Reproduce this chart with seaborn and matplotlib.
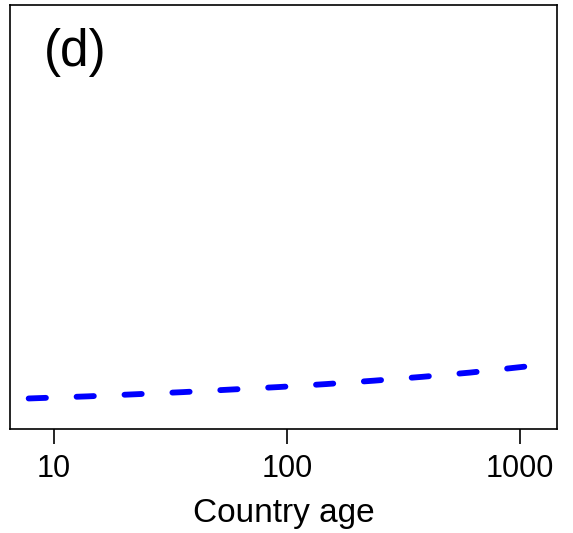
import numpy as np
import pandas as pd
import matplotlib
matplotlib.use("Agg")
import matplotlib.pyplot as plt
import seaborn as sns

country_age = [7.8, 14.0, 22.5, 35.9, 57.4, 92.7, 148, 237, 381, 611, 1090]
effect = [0.072, 0.077, 0.082, 0.087, 0.093, 0.099, 0.106, 0.114, 0.123, 0.133, 0.148]
x_ticks = [10, 100, 1000]
x_tick_labels = ["10", "100", "1000"]

sns.set_style("white")
plt.rcParams['font.family'] = ['Liberation Sans', 'DejaVu Sans']
plt.rcParams['text.color'] = 'black'
plt.rcParams['axes.labelcolor'] = 'black'
plt.rcParams['xtick.color'] = 'black'

df = pd.DataFrame({"age": country_age, "effect": effect})

fig = plt.figure(figsize=(5.73, 5.33), dpi=100)
ax = fig.add_axes([10/573, 1 - 429/533, 547/573, 424/533])

sns.lineplot(data=df, x="age", y="effect", ax=ax, color="#0000ff", linewidth=4.2,
             linestyle=(0, (2.96, 5.26)), estimator=None, sort=True)
ax.lines[0].set_dash_capstyle("round")

ax.set_xscale("log")
ax.set_xlim(10**0.812, 10**3.16)
ax.set_ylim(0, 1)
ax.set_xticks(x_ticks)
ax.set_xticklabels(x_tick_labels)
ax.xaxis.set_minor_locator(matplotlib.ticker.NullLocator())
ax.set_yticks([])
ax.set_ylabel("")
ax.set_xlabel("Country age", fontsize=24, labelpad=10, color="black")
ax.tick_params(axis="x", direction="out", length=11, width=1.2, labelsize=22, pad=7,
               bottom=True, color="black", labelcolor="black")
for s in ax.spines.values():
    s.set_color("black")
    s.set_linewidth(1.2)
ax.text(0.062, 0.945, "(d)", transform=ax.transAxes, fontsize=37, ha="left", va="top",
        color="black")

fig.savefig("out.png", dpi=100)
